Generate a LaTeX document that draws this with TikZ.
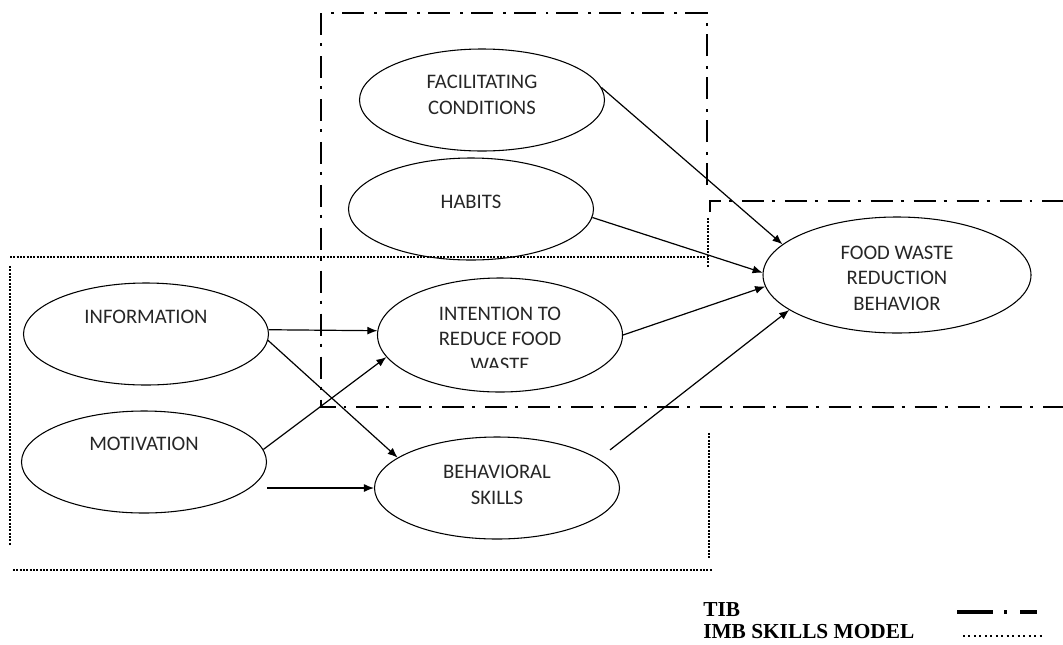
\documentclass[tikz,border=0pt]{standalone}
\usepackage{fontspec}
\setmainfont{Carlito}
\newfontfamily\legendfont{Liberation Serif}
\usetikzlibrary{shapes, arrows.meta, positioning}

\begin{document}
\begin{tikzpicture}[x=0.75pt, y=-0.75pt]
\tikzset{edge/.style = {-{Latex[length=7.5pt,width=6pt]}, line width=0.9pt},
	oval/.style = {ellipse, draw, line width=0.8pt, inner sep=0pt,
		minimum width=183.75pt, minimum height=76.5pt},
	txt/.style = {font=\fontsize{15.5}{19.2}\selectfont, text=black!85, align=center, inner sep=0pt},
	tib/.style = {line width=2.2pt, dash pattern=on 16.5pt off 6pt on 2.2pt off 7.5pt},
	imb/.style = {line width=1.5pt, dash pattern=on 1.5pt off 1pt},
	legend/.style = {font=\legendfont\bfseries\fontsize{16}{19}\selectfont, anchor=base west, inner sep=0pt}}
\useasboundingbox (0,0) rectangle (1063,644);
            % model boxes
	\draw[tib] (707,185) -- (707,13) -- (321,13) -- (321,407) -- (1063,407);
	\draw[tib] (710,212) -- (710,201) -- (1063,201);
	\draw[imb] (10,257) -- (708,257);
	\draw[imb] (708,218) -- (708,268);
	\draw[imb] (10,266) -- (10,546);
	\draw[imb] (13,570) -- (713,570);
	\draw[imb] (709,433) -- (709,558);
            % constructs
	\node[oval] (facil) at (482,100) {};
	\node[oval] (habits) at (471,209) {};
	\node[oval] (info) at (146,334) {};
	\node[oval] (motiv) at (144,462) {};
	\node[oval, minimum height=85.5pt] (intent) at (500,335) {};
	\node[oval] (behav) at (497,488) {};
	\node[oval, minimum width=201pt, minimum height=87pt] (food) at (897,275) {};
	\node[txt] (facil-txt) at (482,95) {FACILITATING\\CONDITIONS};
	\node[txt] (habits-txt) at (471,202) {HABITS};
	\node[txt] (info-txt) at (146,317) {INFORMATION};
	\node[txt] (motiv-txt) at (144,444) {MOTIVATION};
	\node[txt] (behav-txt) at (497,485) {BEHAVIORAL\\SKILLS};
	\node[txt] (food-txt) at (897,278) {FOOD WASTE\\REDUCTION\\BEHAVIOR};
	\begin{scope}
	\clip (400,290) rectangle (600,367);
	\node[txt] (intent-txt) at (500,339) {INTENTION TO\\REDUCE FOOD\\WASTE};
	\end{scope}
            % paths
	\draw[edge] (facil.6) to (food.165);
	\draw[edge] (habits.-4) to (food.179);
	\draw[edge] (intent.east) to (food.185);
	\draw[edge, shorten <=11pt] (behav.16) to (food.198);
	\draw[edge] (info.2) to (intent.178);
	\draw[edge] (info.-3) to (behav.163);
	\draw[edge] (motiv.6) to (intent.191);
	\draw[edge] (motiv.east |- behav.west) to (behav.west);
            % legend
	\node[legend] (tib-lbl) at (703,616) {TIB};
	\node[legend] (imb-lbl) at (703,638) {IMB SKILLS MODEL};
	\draw[line width=3pt, dash pattern=on 27pt off 8.25pt on 2.25pt off 9.75pt on 12.75pt off 20pt] (957,612) -- (1040,612);
	\draw[line width=1.5pt, dash pattern=on 1.5pt off 2.6pt] (963,636) -- (1042,636);
\end{tikzpicture}
\end{document}
